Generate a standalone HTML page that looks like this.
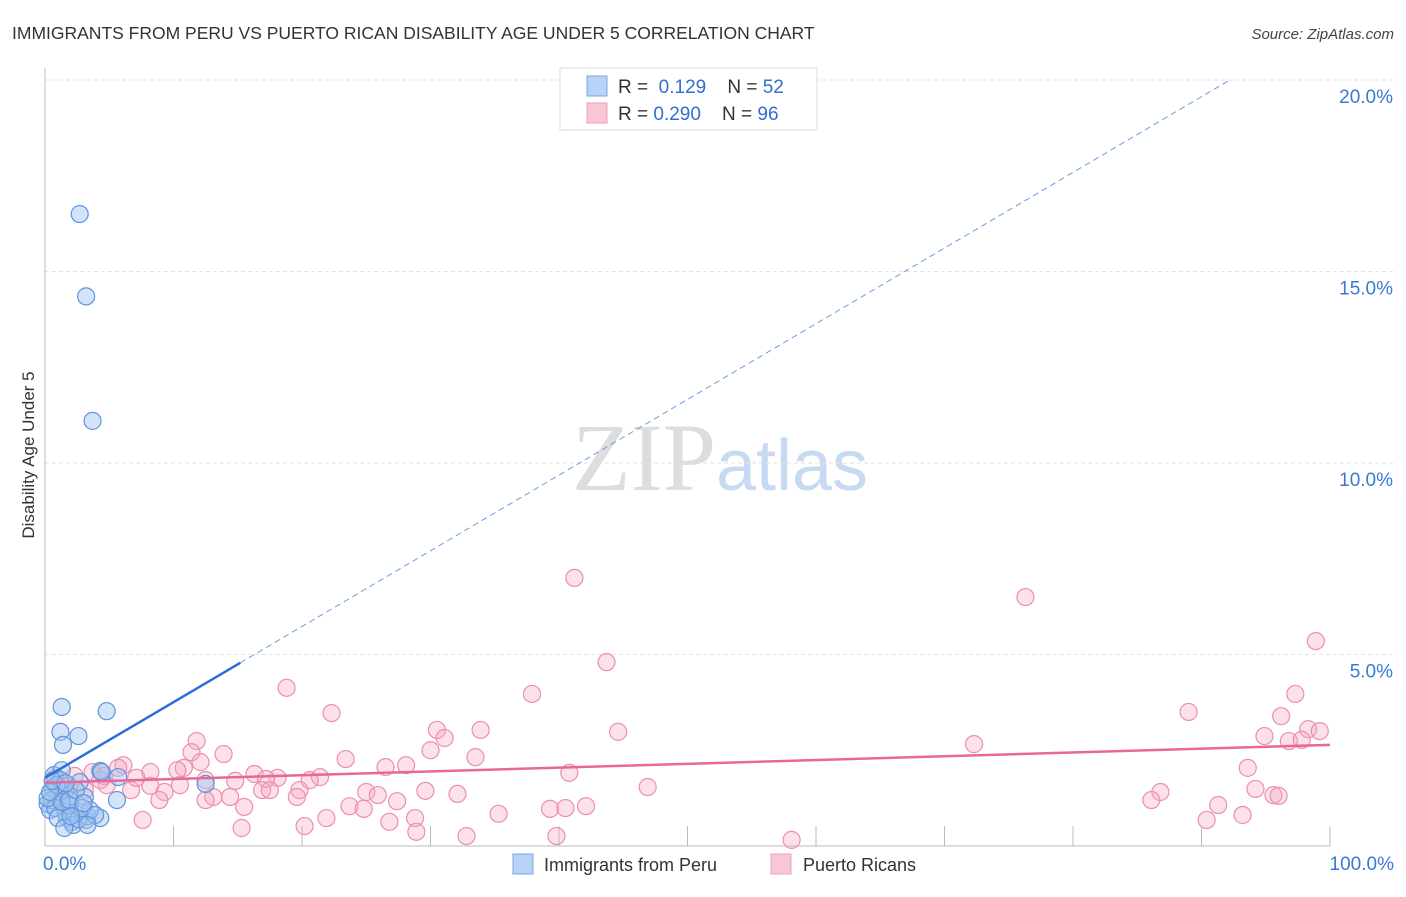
<!DOCTYPE html>
<html><head><meta charset="utf-8"><style>
body{margin:0;background:#fff;font-family:"Liberation Sans",sans-serif;}
svg text{font-family:"Liberation Sans",sans-serif;}
</style></head><body>
<svg id="chart" width="1406" height="892" xmlns="http://www.w3.org/2000/svg">
<text x="12" y="39" font-size="17.5" fill="#333">IMMIGRANTS FROM PERU VS PUERTO RICAN DISABILITY AGE UNDER 5 CORRELATION CHART</text>
<text x="1394" y="39" font-size="15" fill="#444" text-anchor="end" font-style="italic">Source: ZipAtlas.com</text>
<text x="720" y="490" font-size="96" text-anchor="middle"><tspan fill="#ddd" font-family="Liberation Serif">ZIP</tspan><tspan fill="#c8daf2" font-size="72">atlas</tspan></text>
<g id="grid"></g>
<g id="axes"></g>
<g id="pts"></g>
<g id="trend"></g>
<text transform="translate(34,455) rotate(-90)" font-size="17" fill="#333" text-anchor="middle">Disability Age Under 5</text>
<g>
<rect x="560" y="68" width="257" height="62" fill="#fff" stroke="#ddd"/>
<rect x="587" y="76" width="20" height="20" fill="#b8d3f5" stroke="#7aa6e0"/>
<rect x="587" y="103" width="20" height="20" fill="#f8c6d4" stroke="#eea0b8"/>
<text x="618" y="93" font-size="19" fill="#333">R = <tspan fill="#2f6fd0">&#160;0.129</tspan>&#160;&#160;&#160; N = <tspan fill="#2f6fd0">52</tspan></text>
<text x="618" y="120" font-size="19" fill="#333">R = <tspan fill="#2f6fd0">0.290</tspan>&#160;&#160;&#160; N = <tspan fill="#2f6fd0">96</tspan></text>
</g>
<g>
<rect x="513" y="854" width="20" height="20" fill="#b8d3f5" stroke="#7aa6e0"/>
<text x="544" y="871" font-size="18" fill="#333">Immigrants from Peru</text>
<rect x="771" y="854" width="20" height="20" fill="#f8c6d4" stroke="#eea0b8"/>
<text x="803" y="871" font-size="18" fill="#333">Puerto Ricans</text>
</g>
</svg>
<script>
const yTicks=[5,10,15,20];
const yTickLabels=["5.0%","10.0%","15.0%","20.0%"];
const xTicks=[0,10,20,30,40,50,60,70,80,90,100];
const blueX=[2.7,3.2,3.7,1.3,4.8,1.2,2.6,1.4,0.7,1.3,4.3,5.7,12.5,0.6,1.0,1.9,3.1,0.2,0.4,1.6,2.3,3.2,4.3,2.1,3.3,5.6,1.2,0.5,1.6,2.7,0.8,1.9,3.5,4.4,1.7,2.2,2.6,0.2,0.9,1.3,2.9,3.9,0.4,1.0,1.9,2.4,3.0,1.5,2.0,0.6,1.6,3.3];
const blueY=[16.5,14.35,11.1,3.63,3.52,2.98,2.87,2.64,1.85,1.98,1.96,1.8,1.62,1.51,1.33,1.31,1.28,1.1,0.94,0.89,0.86,0.68,0.73,0.63,0.78,1.2,1.72,1.2,1.46,1.67,0.99,1.07,0.94,1.93,0.73,0.55,0.7,1.25,1.59,1.15,0.99,0.81,1.41,0.73,1.2,1.46,1.12,0.47,0.78,1.7,1.64,0.55];
const pinkX=[41.2,76.3,98.9,43.7,18.8,37.9,22.3,89.0,97.3,96.2,30.5,33.9,44.6,31.1,98.3,99.2,94.9,96.8,97.8,11.8,72.3,11.4,13.9,30.0,33.5,23.4,6.1,26.5,28.1,10.8,10.3,93.6,40.8,21.4,16.3,18.1,14.8,17.2,8.2,4.6,3.7,4.8,6.7,9.3,19.8,16.9,46.9,94.2,86.8,95.6,96.0,86.1,25.0,25.9,29.6,32.1,19.6,14.4,13.1,12.5,8.9,23.7,27.4,42.1,39.3,40.5,91.3,15.5,24.8,7.6,21.9,35.3,28.8,20.2,15.3,26.8,28.9,32.8,39.8,58.1,90.4,93.2,12.5,8.2,5.7,4.3,7.1,17.5,20.6,0.8,1.9,3.1,1.2,2.3,10.5,12.1];
const pinkY=[7.0,6.5,5.35,4.8,4.13,3.97,3.47,3.5,3.97,3.39,3.03,3.03,2.98,2.82,3.05,3.0,2.87,2.74,2.77,2.74,2.66,2.45,2.4,2.5,2.32,2.27,2.11,2.06,2.11,2.04,1.98,2.04,1.91,1.8,1.88,1.78,1.7,1.75,1.57,1.83,1.93,1.59,1.46,1.41,1.46,1.46,1.54,1.49,1.41,1.33,1.31,1.2,1.41,1.33,1.44,1.36,1.28,1.28,1.28,1.2,1.2,1.04,1.17,1.04,0.97,0.99,1.07,1.02,0.97,0.68,0.73,0.84,0.73,0.52,0.47,0.63,0.37,0.26,0.26,0.16,0.68,0.81,1.72,1.93,2.04,1.72,1.78,1.46,1.72,1.78,1.57,1.46,1.2,1.83,1.59,2.19];
const blueTrend=[1.78,0.1976];const blueSolidEnd=15.2;const blueDashEnd=92.2;
const pinkTrend=[1.65,0.0099];
const X0=45,X1=1330,Y0=846,PPY=38.3;
const sx=v=>X0+(X1-X0)*v/100, sy=v=>Y0-v*PPY;
const NS="http://www.w3.org/2000/svg";
function mk(t,a,p){const e=document.createElementNS(NS,t);for(const k in a)e.setAttribute(k,a[k]);p.appendChild(e);return e;}
const grid=document.getElementById('grid'),axes=document.getElementById('axes'),pts=document.getElementById('pts'),trend=document.getElementById('trend');
yTicks.forEach((t,i)=>{
 const l=mk('line',{x1:X0,x2:1394,y1:sy(t),y2:sy(t),stroke:'#e2e2e2','stroke-dasharray':'4,3'},grid);
 
 
 const tx=mk('text',{x:1393,y:sy(t)+23,'font-size':19,fill:'#3a78d4','text-anchor':'end'},axes);
 tx.textContent=yTickLabels[i];
 
 
});
const al=mk('line',{x1:X0,x2:X0,y1:68,y2:Y0,stroke:'#bbb'},axes);

const bl=mk('line',{x1:X0,x2:X1,y1:Y0,y2:Y0,stroke:'#bbb'},axes);

xTicks.forEach(t=>{
 const l=mk('line',{x1:sx(t),x2:sx(t),y1:826,y2:Y0,stroke:'#bbb'},axes);
 
 
});
[['0.0%',X0-2,'start'],['100.0%',1394,'end']].forEach(([s,x,a])=>{
 const tx=mk('text',{x:x,y:870,'font-size':19,fill:'#3a78d4','text-anchor':a},axes);tx.textContent=s;
 
 
});
pinkX.forEach((v,i)=>{
 const c=mk('circle',{cx:sx(v),cy:sy(pinkY[i]),r:8.5,fill:'rgba(246,170,192,0.35)',stroke:'#eb8fad','stroke-width':1.2},pts);
 
 
});
blueX.forEach((v,i)=>{
 const c=mk('circle',{cx:sx(v),cy:sy(blueY[i]),r:8.5,fill:'rgba(160,196,240,0.45)',stroke:'#5f93dc','stroke-width':1.2},pts);
 
 
});
const f=(tr,x)=>tr[0]+tr[1]*x;
const bs=mk('line',{x1:sx(0),y1:sy(f(blueTrend,0)),x2:sx(blueSolidEnd),y2:sy(f(blueTrend,blueSolidEnd)),stroke:'#2b6fd6','stroke-width':2.5},trend);

const bd=mk('line',{x1:sx(blueSolidEnd),y1:sy(f(blueTrend,blueSolidEnd)),x2:sx(blueDashEnd),y2:sy(f(blueTrend,blueDashEnd)),stroke:'#6b9de0','stroke-width':1,'stroke-dasharray':'6,4'},trend);

const pl=mk('line',{x1:sx(0),y1:sy(f(pinkTrend,0)),x2:sx(100),y2:sy(f(pinkTrend,100)),stroke:'#e8679a','stroke-width':2.5},trend);

</script>
</body></html>
